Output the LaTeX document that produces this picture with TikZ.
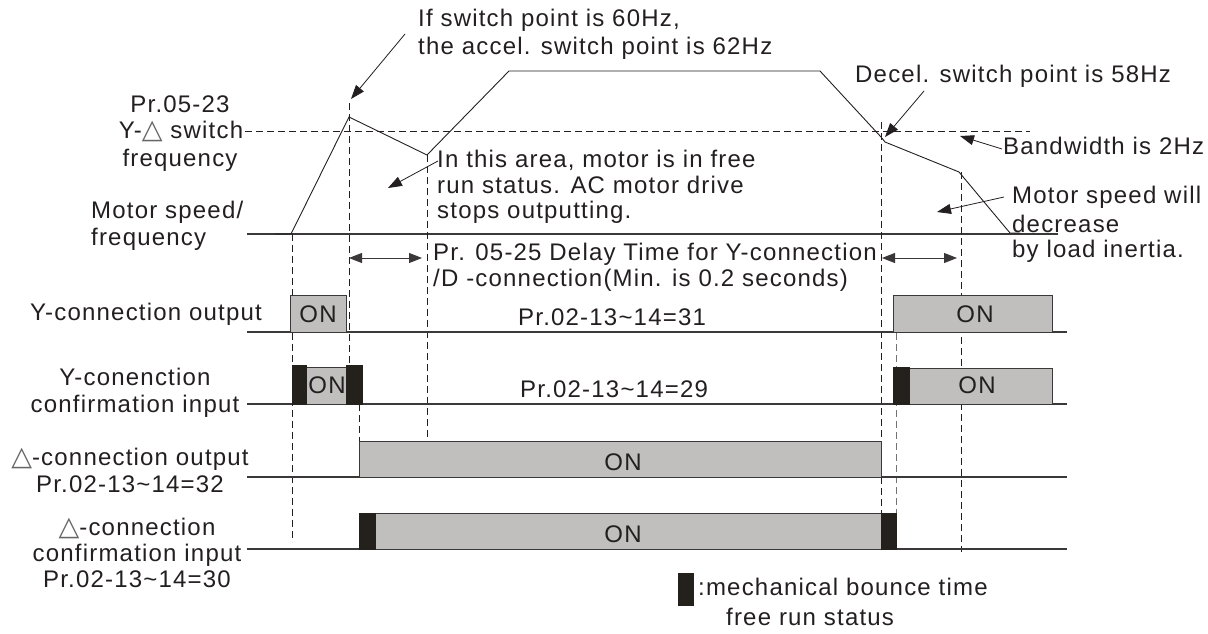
\documentclass[tikz,border=0pt]{standalone}
\usepackage{fontspec}
\setmainfont{Liberation Sans}[LetterSpace=5]
\newfontfamily\symfont{DejaVu Sans}
\usetikzlibrary{arrows.meta}
\definecolor{ink}{HTML}{231F20}
\definecolor{onfill}{HTML}{C0BFBD}
\definecolor{bouncec}{HTML}{24211C}
\definecolor{linec}{HTML}{3A3838}
\newcommand{\fsz}{\fontsize{24}{27}\selectfont}
\newcommand{\tri}{{\symfont\color{black!60}\fontsize{27}{27}\selectfont △}}
\begin{document}
\begin{tikzpicture}[x=1pt,y=-1pt,
  lbl/.style={inner sep=0pt, text=ink, font=\fsz},
  curve/.style={draw=ink, line width=0.9pt, line join=miter},
  sigline/.style={draw=linec, line width=1.2pt},
  guide/.style={draw=ink, line width=0.8pt, dash pattern=on 7pt off 4pt},
  ann/.style={draw=ink, line width=0.8pt, -{Triangle[length=14pt,width=10pt]}},
  span/.style={draw=linec, line width=1pt, {Triangle[length=13pt,width=10pt]}-{Triangle[length=13pt,width=10pt]}},
  onbox/.style={fill=onfill, draw=linec, line width=1pt},
  bouncebox/.style={fill=bouncec, draw=bouncec, line width=0.6pt}]
\useasboundingbox (0,0) rectangle (1208,634);

% ---------- frequency axis and curve ----------
\draw[sigline] (247,234) -- (1058,234);
\draw[guide] (245,131) -- (1030,131);
\draw[curve] (275,234) -- (291,234) -- (349,117) -- (427,155) -- (509,71) -- (820,71)
  -- (881,137) -- (885,142) -- (959,172) -- (1010,233) -- (1020,233);

% ---------- vertical guide lines ----------
\draw[guide] (292,234) -- (292,542);
\draw[guide] (349,103) -- (349,365);
\draw[guide] (359,404) -- (359,441);
\draw[guide] (427,155) -- (427,438);
\draw[guide] (881,122) -- (881,441);
\draw[guide] (881,477) -- (881,513);
\draw[guide, draw=black!55] (896,333) -- (896,513);
\draw[guide] (961,172) -- (961,552);

% ---------- delay spans ----------
\coordinate (s1a) at (349,258); \coordinate (s1b) at (422,258);
\coordinate (s2a) at (882,258); \coordinate (s2b) at (957,258);
\draw[span] (s1a) -- (s1b);
\draw[span] (s2a) -- (s2b);

% ---------- signal rows ----------
\draw[sigline] (247,332) -- (1067,332);
\draw[sigline] (247,404) -- (1067,404);
\draw[sigline] (247,477) -- (1067,477);
\draw[sigline] (247,549) -- (1067,549);

% row 1: Y-connection output
\draw[onbox] (290,295) rectangle (346,332);
\draw[onbox] (893,295) rectangle (1052,332);
\node[lbl, anchor=base] (on1) at (318,322) {ON};
\node[lbl, anchor=base] (on2) at (975,322) {ON};

% row 2: Y-connection confirmation
\draw[onbox] (306,367) rectangle (346,404);
\draw[bouncebox] (292,365) rectangle (306,404);
\draw[bouncebox] (346,365) rectangle (362,404);
\draw[onbox] (909,368) rectangle (1052,404);
\draw[bouncebox] (893,367) rectangle (909,404);
\node[lbl, anchor=base] (on3) at (327,393) {ON};
\node[lbl, anchor=base] (on4) at (977,393) {ON};

% row 3: delta-connection output
\draw[onbox] (359,441) rectangle (881,477);
\node[lbl, anchor=base] (on5) at (623,470) {ON};

% row 4: delta-connection confirmation
\draw[onbox] (375,513) rectangle (881,549);
\draw[bouncebox] (359,513) rectangle (375,549);
\draw[bouncebox] (881,513) rectangle (896,549);
\node[lbl, anchor=base] (on6) at (623,542) {ON};

% ---------- annotations ----------
\node[lbl, anchor=base west] (sw1) at (418,27) {If switch point is 60Hz,};
\node[lbl, anchor=base west] (sw2) at (418,55) {the accel. switch point is 62Hz};
\coordinate (a1s) at (405,34); \coordinate (a1t) at (351,99);
\draw[ann] (a1s) -- (a1t);

\node[lbl, anchor=base] (pr1) at (180,112) {Pr.05-23};
\node[lbl, anchor=base] (pr2) at (181,139) {Y-\tri\ switch};
\node[lbl, anchor=base] (pr3) at (180,166) {frequency};

\node[lbl, anchor=base west] (ms1) at (91,218) {Motor speed/};
\node[lbl, anchor=base west] (ms2) at (91,245) {frequency};

\node[lbl, anchor=base west] (fr1) at (437,167) {In this area, motor is in free};
\node[lbl, anchor=base west] (fr2) at (437,193) {run status. AC motor drive};
\node[lbl, anchor=base west] (fr3) at (437,218) {stops outputting.};
\coordinate (a2s) at (438,161); \coordinate (a2t) at (388,188);
\draw[ann] (a2s) -- (a2t);

\node[lbl, anchor=base west] (dc) at (855,82) {Decel. switch point is 58Hz};
\coordinate (a3s) at (924,91); \coordinate (a3t) at (885,137);
\draw[ann] (a3s) -- (a3t);

\node[lbl, anchor=base west] (bw) at (1003,154) {Bandwidth is 2Hz};
\coordinate (a4s) at (1002,149); \coordinate (a4t) at (960,136);
\draw[ann] (a4s) -- (a4t);

\node[lbl, anchor=base west] (mw1) at (1012,203) {Motor speed will};
\node[lbl, anchor=base west] (mw2) at (1012,232) {decrease};
\node[lbl, anchor=base west] (mw3) at (1012,257) {by load inertia.};
\coordinate (a5s) at (1004,197); \coordinate (a5t) at (937,212);
\draw[ann] (a5s) -- (a5t);

\node[lbl, anchor=base west] (dl1) at (433,260) {Pr. 05-25 Delay Time for Y-connection};
\node[lbl, anchor=base west] (dl2) at (433,286) {/D -connection(Min. is 0.2 seconds)};

% ---------- row labels ----------
\node[lbl, anchor=base west] (r1) at (30,320) {Y-connection output};
\node[lbl, anchor=base west] (p31) at (518,325) {Pr.02-13\textasciitilde14=31};

\node[lbl, anchor=base] (r2a) at (135,385) {Y-conenction};
\node[lbl, anchor=base] (r2b) at (135,412) {confirmation input};
\node[lbl, anchor=base west] (p29) at (520,397) {Pr.02-13\textasciitilde14=29};

\node[lbl, anchor=base] (r3a) at (130,465) {\tri-connection output};
\node[lbl, anchor=base] (r3b) at (130,492) {Pr.02-13\textasciitilde14=32};

\node[lbl, anchor=base] (r4a) at (137,535) {\tri-connection};
\node[lbl, anchor=base] (r4b) at (137,561) {confirmation input};
\node[lbl, anchor=base] (r4c) at (137,587) {Pr.02-13\textasciitilde14=30};

% ---------- legend ----------
\draw[bouncebox] (678,573) rectangle (693,605);
\node[lbl, anchor=base west] (lg1) at (698,595) {:mechanical bounce time};
\node[lbl, anchor=base west] (lg2) at (726,625) {free run status};
\end{tikzpicture}
\end{document}
